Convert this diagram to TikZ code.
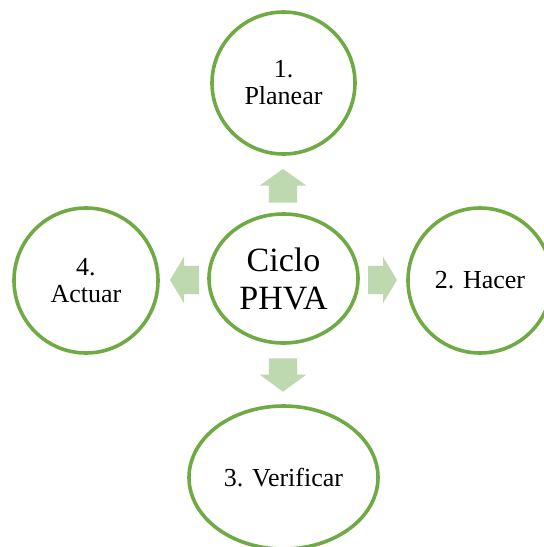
\documentclass[tikz,border=0pt]{standalone}
\usepackage{fontspec}
\setmainfont{Liberation Serif}
\usetikzlibrary{shapes.geometric}
\definecolor{ringgreen}{RGB}{112,170,68}
\definecolor{arrowfill}{RGB}{190,216,176}
\tikzset{
  stage/.style={ellipse, draw=ringgreen, line width=3.6pt, fill=white,
    inner sep=0pt, align=center, text=black,
    font=\fontsize{26}{27}\selectfont},
  hub/.style={stage, font=\fontsize{34}{38}\selectfont},
  pics/blockarrow/.style 2 args={code={
    \fill[arrowfill] (0,-14.2) -- (#1-#2,-14.2) -- (#1-#2,-23.2) -- (#1,0)
      -- (#1-#2,23.2) -- (#1-#2,14.2) -- (0,14.2) -- cycle;}}
}
\begin{document}
\begin{tikzpicture}[x=1pt,y=-1pt]
  \useasboundingbox[fill=white] (0,0) rectangle (544,547);

  % hub and the four stages of the cycle
  \node[hub, minimum width=149pt, minimum height=129pt] (hub) at (283.5,278.5) {Ciclo\\PHVA};
  \node[stage, minimum width=143pt, minimum height=142pt] (plan) at (283.5,83) {1.\\Planear};
  \node[stage, minimum width=144pt, minimum height=145pt] (do) at (480,280.5) {2. Hacer};
  \node[stage, minimum width=189pt, minimum height=143pt] (check) at (283.5,477.5) {3. Verificar};
  \node[stage, minimum width=144pt, minimum height=145pt] (act) at (86,280.5) {4.\\Actuar};

  % block arrows pointing out of the hub
  \pic at (283,202.7) [rotate=90]  {blockarrow={33.7}{16.5}};
  \pic at (368,280)   [rotate=0]   {blockarrow={29}{14}};
  \pic at (283,358.3) [rotate=-90] {blockarrow={33.4}{17}};
  \pic at (199,280)   [rotate=180] {blockarrow={29}{14}};
\end{tikzpicture}
\end{document}
